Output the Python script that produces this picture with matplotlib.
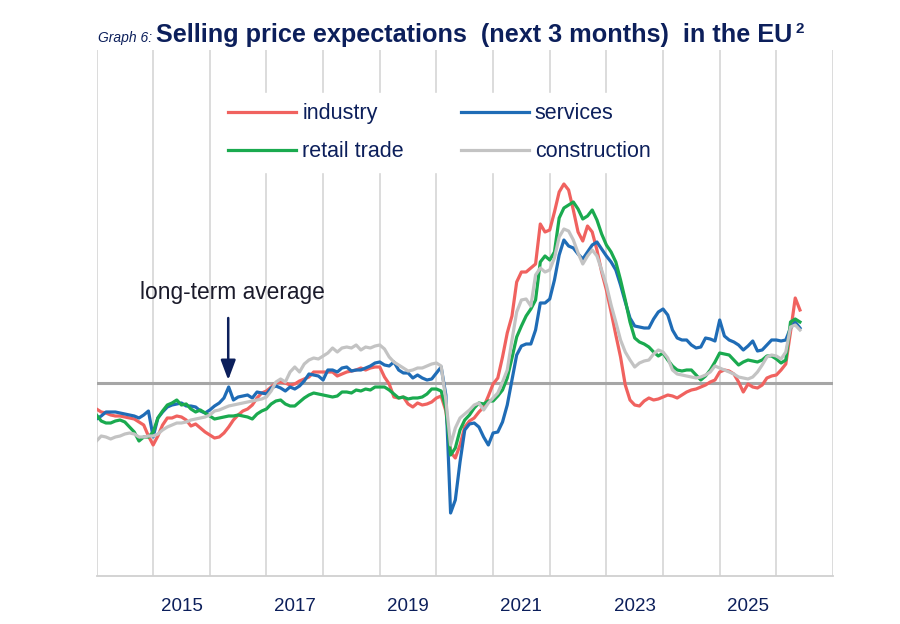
import matplotlib
matplotlib.use("Agg")
import matplotlib.pyplot as plt
import numpy as np

plt.rcParams['font.family'] = ['Liberation Sans', 'DejaVu Sans']

# months since Jan 2014
years = [2015, 2017, 2019, 2021, 2023, 2025]
start_year = 2014

# balances relative to the long-term average (arbitrary units)
industry = [-26, -29, -30, -32, -33, -33, -34, -35, -36, -39, -42, -53, -62, -53, -42, -35, -35, -33, -34, -37,
            -43, -41, -45, -49, -52, -55, -54, -50, -44, -37, -32, -28, -26, -22, -15, -10, -8, -4, 0, 1,
            0, -2, -1, 2, 4, 6, 11, 11, 11, 11, 11, 7, 9, 11, 12, 13, 15, 13, 15, 16,
            16, 6, -1, -14, -15, -14, -21, -24, -20, -22, -21, -19, -15, -13, -28, -69, -75, -62, -44, -38,
            -35, -29, -24, -13, -1, 5, 26, 50, 67, 101, 111, 111, 115, 119, 159, 151, 153, 171, 191, 199,
            193, 173, 151, 142, 157, 151, 133, 111, 93, 71, 48, 26, -2, -17, -22, -23, -18, -15, -17, -16,
            -14, -12, -13, -15, -12, -9, -7, -6, -4, -2, 1, 3, 11, 13, 12, 9, 1, -9, -1, -4,
            -5, -2, 5, 7, 8, 13, 19, 51, 85, 73]
services = [-36, -33, -29, -29, -29, -30, -31, -32, -33, -35, -32, -28, -54, -35, -29, -24, -22, -21, -20, -23,
            -23, -24, -28, -30, -27, -23, -20, -15, -4, -17, -14, -13, -12, -15, -9, -10, -11, -5, -3, -5,
            -8, -4, -6, -3, 2, 9, 8, 7, 3, 13, 13, 11, 15, 16, 12, 13, 13, 15, 17, 20,
            21, 18, 17, 21, 13, 10, 10, 5, 8, 5, 3, 4, 10, 16, -12, -130, -117, -79, -47, -41,
            -40, -44, -54, -62, -50, -49, -39, -22, 3, 28, 37, 39, 39, 53, 80, 80, 84, 103, 128, 143,
            137, 135, 129, 124, 131, 138, 141, 134, 127, 121, 113, 98, 81, 65, 57, 56, 55, 55, 64, 71,
            74, 68, 53, 45, 43, 43, 38, 35, 36, 45, 44, 42, 63, 47, 43, 41, 38, 33, 37, 42,
            32, 33, 38, 43, 43, 42, 43, 55, 61, 55]
retail = [-32, -38, -40, -40, -38, -37, -39, -44, -49, -58, -54, -54, -49, -35, -28, -22, -20, -17, -22, -21,
          -26, -29, -27, -30, -33, -36, -35, -34, -33, -33, -32, -33, -34, -36, -31, -28, -26, -21, -18, -17,
          -21, -23, -23, -19, -15, -12, -10, -11, -12, -13, -14, -13, -9, -9, -10, -7, -8, -6, -7, -4,
          -4, -4, -7, -11, -15, -14, -16, -15, -15, -14, -11, -6, -6, -8, -25, -72, -65, -47, -37, -32,
          -25, -20, -21, -18, -18, -13, -7, 5, 25, 46, 57, 67, 74, 83, 121, 127, 123, 131, 165, 175,
          178, 181, 174, 164, 167, 173, 163, 149, 138, 131, 121, 103, 83, 61, 45, 41, 39, 36, 31, 27,
          30, 23, 17, 13, 12, 13, 13, 8, 3, 7, 13, 21, 30, 29, 28, 23, 18, 21, 23, 22,
          21, 23, 27, 27, 24, 20, 23, 61, 64, 61]
construction = [-58, -53, -54, -56, -54, -53, -51, -50, -51, -54, -54, -53, -53, -51, -47, -44, -42, -40, -40, -39,
                -37, -36, -35, -34, -32, -28, -27, -25, -23, -22, -21, -20, -19, -18, -17, -16, -14, -8, 1, 4,
                1, 11, 16, 11, 19, 23, 25, 24, 27, 30, 35, 31, 35, 36, 35, 38, 33, 36, 35, 37,
                38, 34, 26, 21, 18, 15, 12, 13, 15, 15, 17, 19, 20, 17, -17, -62, -45, -35, -31, -27,
                -22, -20, -27, -20, -15, -10, 1, 13, 43, 71, 83, 84, 77, 108, 115, 111, 113, 125, 146, 154,
                152, 143, 130, 119, 127, 133, 127, 113, 98, 78, 61, 43, 31, 23, 16, 20, 22, 23, 29, 33,
                31, 25, 13, 9, 8, 7, 6, 5, 6, 8, 11, 17, 15, 13, 11, 9, 6, 5, 4, 6,
                11, 18, 26, 28, 27, 24, 31, 56, 58, 53]
long_term_average = 0

series = [("industry", industry, "#f0625f"),
          ("services", services, "#1f6cb6"),
          ("retail trade", retail, "#1aaa4f"),
          ("construction", construction, "#c3c3c3")]

navy = "#0c1f5b"

fig = plt.figure(figsize=(9, 6.24), dpi=100)
ax = fig.add_axes([96.5 / 900, 48 / 624, (833 - 96.5) / 900, (576 - 50) / 624])

n_years = 13
ax.set_xlim(0, 12 * n_years)
ax.set_ylim(-193, 333)

for k in range(n_years + 1):
    ax.axvline(12 * k, color="#d9d9d9", lw=1.3, zorder=0)

ax.axhline(long_term_average, color="#a6a6a6", lw=2.2, zorder=1)

handles = []
for name, vals, col in series:
    m = np.arange(len(vals))
    h, = ax.plot(m, vals, color=col, lw=2.3, label=name, zorder=3, solid_joinstyle="round")
    handles.append(h)

for s in ["top", "right", "left"]:
    ax.spines[s].set_visible(False)
ax.spines["bottom"].set_color("#d0d0d0")
ax.spines["bottom"].set_linewidth(1.3)
ax.set_yticks([])
ax.set_xticks([(y - start_year) * 12 + 6 for y in years])
ax.set_xticklabels([str(y) for y in years], fontsize=13.5, color=navy)
ax.tick_params(axis="x", length=0, pad=16)

leg = ax.legend(handles=[handles[0], handles[2], handles[1], handles[3]],
                labels=["industry", "retail trade", "services", "construction"],
                ncol=2, loc="upper left", bbox_to_anchor=(0.1514, 0.938),
                frameon=True, facecolor="white", edgecolor="white", framealpha=1,
                fontsize=15.5, handlelength=3.15, handletextpad=0.28, columnspacing=2.65,
                labelspacing=0.8, borderpad=0.45, labelcolor=navy)
leg.set_zorder(5)

ax.annotate("", xy=(27.9, 3), xytext=(27.9, 65),
            arrowprops=dict(arrowstyle="-|>,head_width=0.45,head_length=1.2", color=navy, lw=1.8,
                            shrinkA=0, shrinkB=0), zorder=6)
ax.text(28.7, 90, "long-term average", ha="center", va="center", fontsize=16.4, color="#1b1b2b", zorder=6)

# title
fig.canvas.draw()
r = fig.canvas.get_renderer()
t1 = fig.text(98 / 900, 1 - 42 / 624, "Graph 6:", fontsize=10, style="italic", color=navy, va="baseline")
bb = t1.get_window_extent(r)
t2 = fig.text((bb.x1 + 4) / 900, 1 - 42 / 624, "Selling price expectations  (next 3 months)  in the EU",
              fontsize=18.2, weight="bold", color=navy, va="baseline")
bb2 = t2.get_window_extent(r)
fig.text((bb2.x1 + 3) / 900, 1 - 33 / 624, "2", fontsize=11, weight="bold", color=navy, va="baseline")

fig.savefig("out.png", dpi=100, facecolor="white")
